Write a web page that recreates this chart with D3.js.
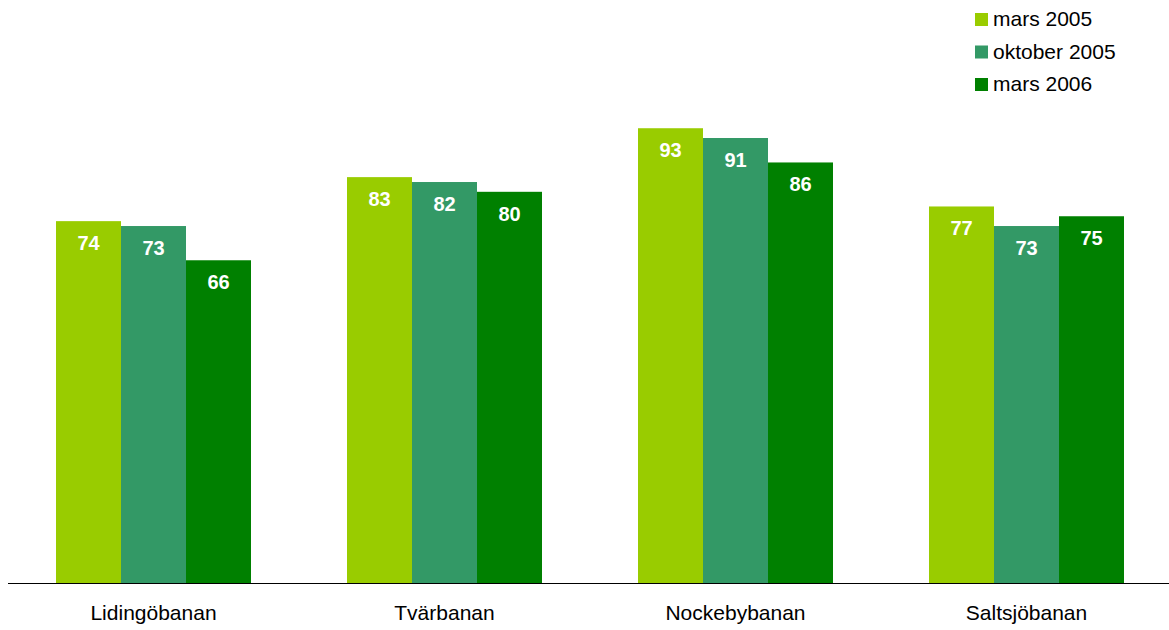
<!DOCTYPE html>
<html><head><meta charset="utf-8">
<script src="https://cdn.jsdelivr.net/npm/d3@7"></script>
<style>body{margin:0;background:#fff}svg{display:block}</style>
</head><body>
<script>
const categories = ["Lidingöbanan", "Tvärbanan", "Nockebybanan", "Saltsjöbanan"];
const seriesNames = ["mars 2005", "oktober 2005", "mars 2006"];
const mars2005 = [74, 83, 93, 77];
const oktober2005 = [73, 82, 91, 73];
const mars2006 = [66, 80, 86, 75];
const seriesValues = [mars2005, oktober2005, mars2006];
const colors = ["#99CC00", "#339966", "#008000"];

const W = 1169, H = 630;
const svg = d3.select("body").append("svg").attr("width", W).attr("height", H);
const font = "Liberation Sans, Arial, sans-serif";

const x0 = d3.scaleBand().domain(categories).range([8, 1172]).paddingInner(0).paddingOuter(0);
const groupW = 195;
const x1 = d3.scaleBand().domain(seriesNames).range([0, groupW]).padding(0);
const y = d3.scaleLinear().domain([0, 100]).range([583, 94]);

const data = [];
categories.forEach((c, i) => seriesNames.forEach((s, j) => data.push({c, s, j, v: seriesValues[j][i]})));

const gx = c => x0(c) + (x0.bandwidth() - groupW) / 2;

svg.append("g").selectAll("rect").data(data).join("rect")
  .attr("x", d => gx(d.c) + x1(d.s))
  .attr("y", d => y(d.v))
  .attr("width", x1.bandwidth())
  .attr("height", d => y(0) - y(d.v))
  .attr("fill", d => colors[d.j]);

svg.append("g").selectAll("text").data(data).join("text")
  .attr("x", d => gx(d.c) + x1(d.s) + x1.bandwidth() / 2)
  .attr("y", d => y(d.v) + 29)
  .attr("text-anchor", "middle")
  .attr("fill", "#fff")
  .attr("font-family", font)
  .attr("font-weight", "bold")
  .attr("font-size", 20)
  .text(d => d.v);

// axis
const axis = svg.append("g").attr("transform", `translate(0,${y(0)})`)
  .call(d3.axisBottom(x0).tickSize(0).tickPadding(22));
axis.select(".domain").attr("d", "M8,0.5H1169").attr("stroke", "#000").attr("stroke-width", 1);
axis.selectAll("text").attr("font-family", font).attr("font-size", 21).attr("fill", "#000")
  .attr("dy", "0.71em");

// legend
const lg = svg.append("g");
seriesNames.forEach((s, j) => {
  const by = 26 + j * 32.5;
  lg.append("rect").attr("x", 975).attr("y", by - 13).attr("width", 13).attr("height", 13).attr("fill", colors[j]);
  lg.append("text").attr("x", 993).attr("y", by).attr("font-family", font).attr("font-size", 21)
    .attr("fill", "#000").text(s);
});
</script>
</body></html>
